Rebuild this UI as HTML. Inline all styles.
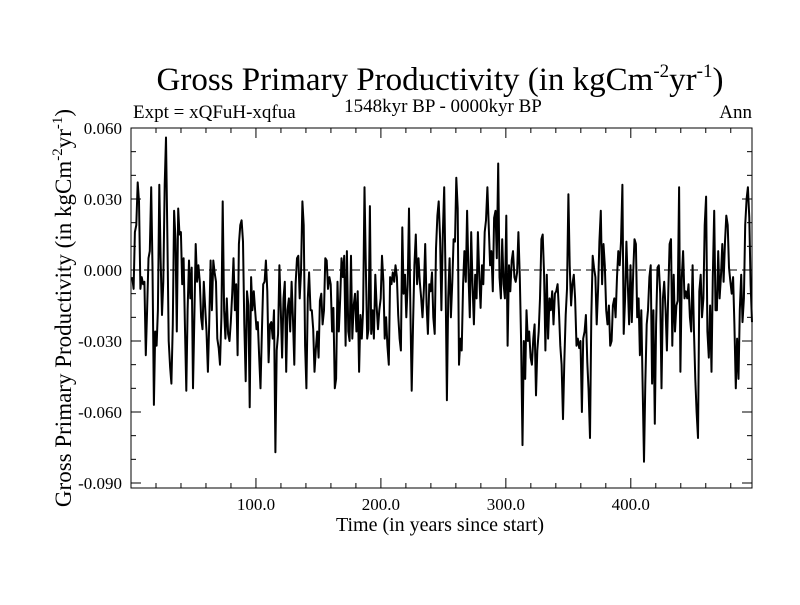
<!DOCTYPE html>
<html><head><meta charset="utf-8"><style>
body{margin:0;background:#fff}
svg text{font-family:"Liberation Serif",serif;fill:#000}
</style></head><body>
<svg id="chart" width="800" height="600">
<text x="440" y="90" font-size="33" text-anchor="middle">Gross Primary Productivity (in kgCm<tspan dy="-13" font-size="19">-2</tspan><tspan dy="13">yr</tspan><tspan dy="-13" font-size="19">-1</tspan><tspan dy="13">)</tspan></text>
<text x="133" y="118" font-size="19">Expt = xQFuH-xqfua</text>
<text x="443" y="112" font-size="19" text-anchor="middle">1548kyr BP - 0000kyr BP</text>
<text x="752" y="118" font-size="19" text-anchor="end">Ann</text>
<text transform="translate(71,308) rotate(-90)" font-size="23" text-anchor="middle">Gross Primary Productivity (in kgCm<tspan dy="-9" font-size="15">-2</tspan><tspan dy="9">yr</tspan><tspan dy="-9" font-size="15">-1</tspan><tspan dy="9">)</tspan></text>
<text x="440" y="531" font-size="20" text-anchor="middle">Time (in years since start)</text>
<g id="axes"></g>
<g id="series"></g>
</svg>
<script>
const seg1=[-3,-8,16,19,37,29,-8,-3,-6,-5,-36,-17,5,8,35,1,-57,-26,-32,-17,36,5,-19,-5,36,56,13,-30,-41,-48,-23,25,13,-26,26,15,16,-6,5,-23,-51,-17,4,-12,1,-50,-19,11,-5,2,-5,-20,-25,-5,-16,-26,-43,-23,4,-17,4,-1,-5,-29,-33,-40,-20,29,-17,-29,-12,-27];
const seg2=[-30,-22,-10,5,-17,-6,-36,11,19,21,12,-23,-47,-9,-15,-58,-3,-17,-9,-17,-25,-22,-37,-50,-26,-6,-5,4,-9,-39,-23,-22,-29,-17,-77,-34,-27,2,-17,-37,-12,-5,-43,-17,-12,-26,-5,-20,-40,-6,5,6,-12,-1,29,19,-32,-50,-12,-1,-17,-17,-25,-43,-33,-26,-37,-13,-10,-23,-17,5,4,-8,-3,-6,-26];
const seg3=[-16,-50,-46,-5,-26,-12,5,-3,6,-32,8,-26,-30,6,-29,-15,-10,-26,-9,-43,-19,-29,-17,35,2,-29,-25,27,-27,-17,-29,-2,-15,-25,-17,-12,6,-5,-29,-20,-32,-40,-3,-6,-1,-5,2,-3,-19,-29,-34,18,-10,-2,-20,-6,26,-17,-51,-22,2,15,-6,5,-5,-12,-20,-8,11,-15,-27,-6,-9,-1,-20,-27,9,23,29];
const seg4=[13,-17,15,35,-2,-55,-12,5,-20,-5,13,12,39,26,-40,-29,-34,-6,8,-5,25,-2,-20,16,-6,-23,-2,-12,16,-3,-16,2,-6,16,21,35,19,2,8,-9,22,25,5,45,-3,-12,13,-6,-12,23,-32,2,-9,4,8,-3,-5,-1,16,-3,-30,-74,-30,-46,-17,-30,-26,-37,-40,-29,-23,-53,-34,-26,-12,13,15,-2,-34];
const seg5=[-2,-29,-12,-17,-9,-23,-10,-9,-6,-17,-32,-40,-63,-39,-19,-8,32,2,-15,-6,-2,-12,-32,-29,-33,-30,-60,-29,-26,-19,-39,-51,-71,-20,6,1,-3,-23,-8,12,25,-6,11,2,-17,-23,-15,-32,-30,-15,-12,-20,-3,8,2,12,36,-27,-12,12,-6,-23,2,-22,-1,13,11,-20,-12,-36,-17,-48,-81,-48,-23,-17,-3,2,-48];
const seg6=[-17,-65,-23,1,2,-10,-50,-12,-5,-17,-34,-9,11,13,-32,-2,-26,-15,-13,35,-43,-3,8,-12,-9,-12,-6,-20,-26,2,-25,-46,-60,-71,-9,-2,-20,-12,19,31,-26,-37,-15,-43,-3,25,-17,-17,8,-12,-3,11,-5,12,23,19,1,-5,-10,-3,-23,-50,-29,-46,-17,-2,-22,-12,19,30,35,22,-6,-22];
const xTickLabels=["100.0","200.0","300.0","400.0"];
const xTickValues=[100,200,300,400];
const yTickLabels=["0.060","0.030","0.000","-0.030","-0.060","-0.090"];
const yTickValues=[0.06,0.03,0,-0.03,-0.06,-0.09];
const yearStart=1, yearEnd=497;

const L=131,R=752,T=128,B=488;
const xs=v=>L+(v-0)/(497-0)*(R-L);
const ys=v=>270-v*(213/0.09);
const NS="http://www.w3.org/2000/svg";
function mk(tag,attrs,parent){const e=document.createElementNS(NS,tag);for(const k in attrs)e.setAttribute(k,attrs[k]);parent.appendChild(e);return e;}
const ax=document.getElementById('axes');
const frame=mk('rect',{x:L,y:T,width:R-L,height:B-T,fill:'none',stroke:'#000','stroke-width':1},ax);


const zero=mk('line',{x1:L,x2:R,y1:ys(0),y2:ys(0),stroke:'#000','stroke-dasharray':'8,5','stroke-width':1},ax);


for(let t=20;t<497;t+=20){const major=t%100===0;const len=major?10:5;
 const a=mk('line',{x1:xs(t),x2:xs(t),y1:B,y2:B-len,stroke:'#000'},ax);
 
 
 const b=mk('line',{x1:xs(t),x2:xs(t),y1:T,y2:T+len,stroke:'#000'},ax);
 
 }
xTickValues.forEach((v,i)=>{const t=mk('text',{x:xs(v),y:510,'font-size':17,'text-anchor':'middle'},ax);t.textContent=xTickLabels[i];
 
 });
for(let k=-9;k<=6;k++){const v=k/100;const major=k%3===0;const len=major?10:5;const y=ys(v);
 const a=mk('line',{x1:L,x2:L+len,y1:y,y2:y,stroke:'#000'},ax);
 
 
 const b=mk('line',{x1:R,x2:R-len,y1:y,y2:y,stroke:'#000'},ax);
 
 }
yTickValues.forEach((v,i)=>{const t=mk('text',{x:122,y:ys(v)+6,'font-size':17,'text-anchor':'end'},ax);t.textContent=yTickLabels[i];
 
 });
const vals=[].concat(seg1,seg2,seg3,seg4,seg5,seg6);
const n=vals.length;
const pts=vals.map((v,i)=>xs(yearStart+(yearEnd-yearStart)*i/(n-1)).toFixed(1)+','+ys(v/1000).toFixed(1)).join(' ');
const line=mk('polyline',{points:pts,fill:'none',stroke:'#000','stroke-width':2,'stroke-linejoin':'round'},document.getElementById('series'));


</script>
</body></html>
